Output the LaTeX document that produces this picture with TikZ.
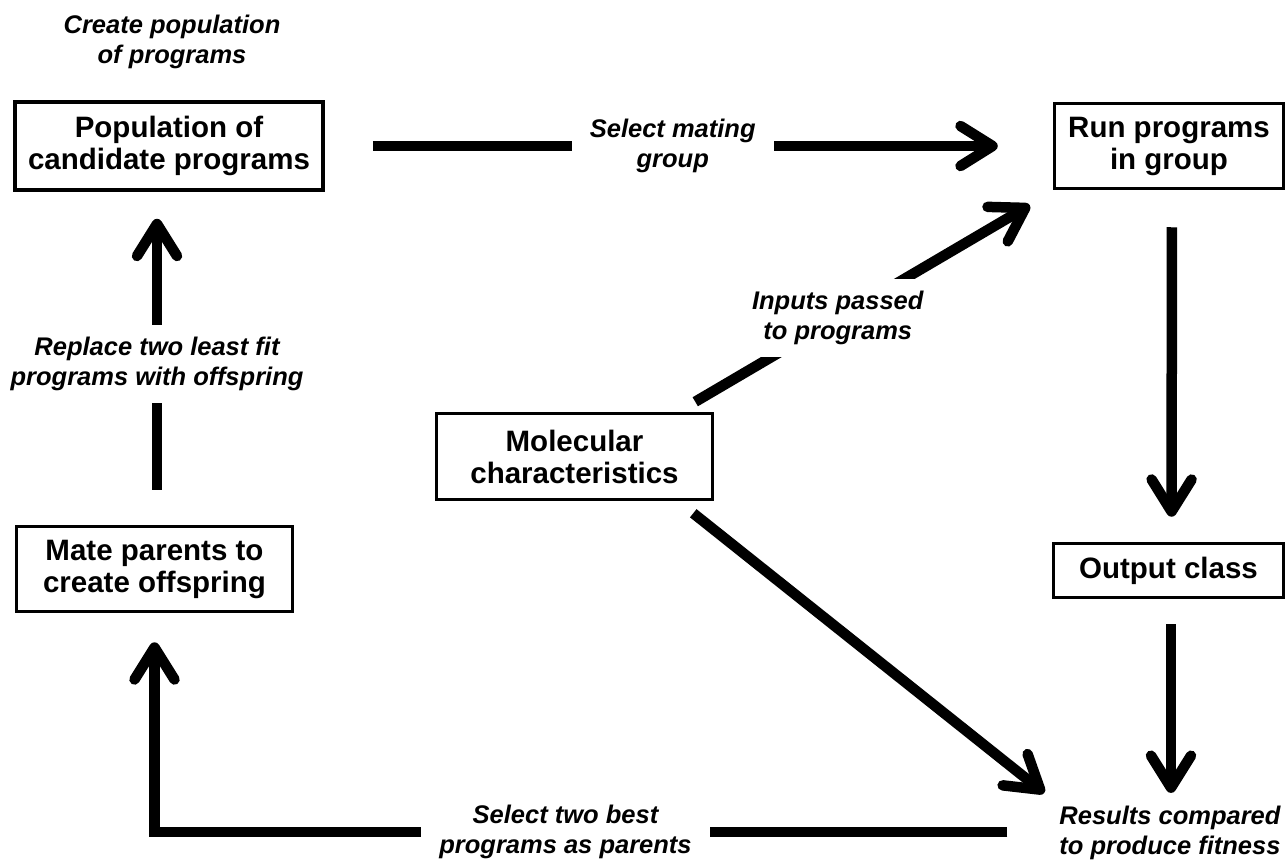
\documentclass[tikz,border=0pt]{standalone}
\usepackage{fontspec}
\setmainfont{Liberation Sans}
\usetikzlibrary{arrows.meta}
\tikzset{
  box/.style={draw, line width=3.5pt, inner sep=0pt, align=center,
    font=\bfseries\fontsize{29.5}{32}\selectfont},
  lbl/.style={align=center, inner sep=0pt,
    font=\bfseries\itshape\fontsize{25.5}{30}\selectfont},
  gaplbl/.style={lbl, fill=white, inner xsep=18pt, inner ysep=12pt},
  arr/.style={line width=10.5pt, line join=miter,
    -{Straight Barb[length=32pt,width=40pt,round]}},
}
\begin{document}
\begin{tikzpicture}[x=1pt,y=-1pt]
\useasboundingbox (0,0) rectangle (1286,862);

\node[box, minimum width=308pt, minimum height=88pt] (pop) at (169,146) {Population of\\candidate programs};
\node[box, minimum width=229pt, minimum height=85pt] (run) at (1169,146) {Run programs\\in group};
\node[box, minimum width=276pt, minimum height=86pt] (mol) at (574.5,456.5) {Molecular\\characteristics};
\node[box, minimum width=276pt, minimum height=85pt] (mate) at (154.5,569) {Mate parents to\\create offspring};
\node[box, minimum width=230pt, minimum height=54pt] (out) at (1168.5,570.5) {Output class};

\node[lbl] (create) at (172,42) {Create population\\of programs};
\node[lbl] (res) at (1170,833) {Results compared\\to produce fitness};

% population -> run
\draw[arr, shorten <=48pt, shorten >=55pt] (pop.east) -- (run.west)
  node[gaplbl, pos=0.478] (l1) {Select mating\\group};

% molecular -> run
\draw[arr] ([xshift=-19pt,yshift=10pt]mol.north east) -- ([xshift=-23pt,yshift=-15pt]run.south west)
  node[gaplbl, inner xsep=4pt, pos=0.426] (l2) {Inputs passed\\to programs};

% run -> output
\draw[arr, shorten <=37pt, shorten >=25pt] ([xshift=3pt]run.south) -- ([xshift=3pt]out.north);

% output -> results
\draw[arr, shorten <=25pt, shorten >=13pt] ([xshift=2.5pt]out.south) -- ([xshift=2.5pt]out.south |- res.north);

% molecular -> results
\draw[arr] ([xshift=-21pt,yshift=-12pt]mol.south east) -- ([xshift=-15pt,yshift=13pt]res.north west);

% results -> mate
\draw[arr, shorten >=29pt] ([xshift=-52pt,yshift=1pt]res.west) -| (mate.south)
  node[gaplbl, pos=0.259] (l3) {Select two best\\programs as parents};

% mate -> population
\draw[arr, shorten <=35pt, shorten >=27pt] ([xshift=2.5pt]mate.north) -- ([xshift=2.5pt]mate.north |- pop.south)
  node[gaplbl, pos=0.483] (l4) {Replace two least fit\\programs with offspring};
\end{tikzpicture}
\end{document}
